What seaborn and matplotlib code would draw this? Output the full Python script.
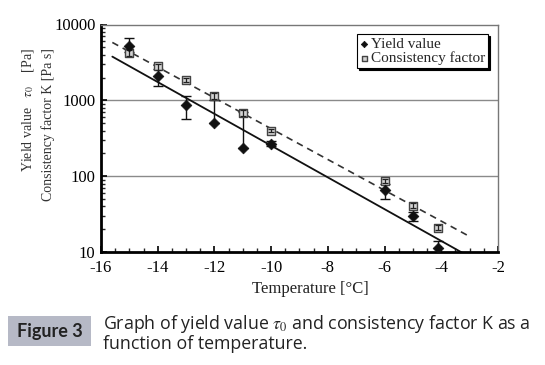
import matplotlib
matplotlib.use("Agg")
import matplotlib.pyplot as plt
import seaborn as sns
import pandas as pd
import numpy as np
from matplotlib.patches import Rectangle
from matplotlib.ticker import FixedLocator, NullFormatter, LogLocator

# ---- data ----
temps = [-15, -14, -13, -12, -11, -10, -6, -5, -4.1]
yield_value = [5200, 2100, 860, 500, 238, 267, 66, 30, 11.3]
yield_err_low = [800, 550, 290, 0, 0, 20, 16, 4, 2.5]
yield_err_high = [1500, 500, 270, 500, 470, 20, 12, 4, 2.5]

temps_k = [-15, -14, -13, -12, -11, -10, -6, -5, -4.1]
consistency = [4200, 2800, 1860, 1140, 680, 400, 87, 41, 21]
cons_err = [400, 250, 120, 100, 60, 20, 5, 3, 1.5]

fit_x = [-15.6, -3.2]
fit_yield = [3770, 9.5]
fit_x_k = [-15.6, -3.0]
fit_cons = [5800, 16]

xticks = [-16, -14, -12, -10, -8, -6, -4, -2]
yticks = [10, 100, 1000, 10000]
ytick_labels = ["10", "100", "1000", "10000"]

sns.set_theme(style="white")
plt.rcParams['font.family'] = ['Liberation Serif', 'DejaVu Serif']
plt.rcParams['mathtext.fontset'] = 'stix'

W, H = 545, 365
fig = plt.figure(figsize=(5.45, 3.65), dpi=100)
ax = fig.add_axes([101/W, 1-252/H, 397/W, 227.5/H])

df_y = pd.DataFrame({"T": temps, "v": yield_value})
df_k = pd.DataFrame({"T": temps_k, "v": consistency})
df_fy = pd.DataFrame({"T": fit_x, "v": fit_yield})
df_fk = pd.DataFrame({"T": fit_x_k, "v": fit_cons})

ax.set_yscale("log")

for g in [100, 1000]:
    ax.axhline(g, color="#8a8a8a", lw=1.0, zorder=0)

sns.lineplot(data=df_fk, x="T", y="v", ax=ax, color="#333333", lw=1.2,
             dashes=False, linestyle=(0, (4, 3)), zorder=2)
sns.lineplot(data=df_fy, x="T", y="v", ax=ax, color="#111111", lw=1.3, zorder=2)

ax.errorbar(temps_k, consistency, yerr=[cons_err, cons_err], fmt="none",
            ecolor="#222222", elinewidth=0.9, capsize=2.5, capthick=0.9, zorder=4)
ax.errorbar(temps, yield_value, yerr=[yield_err_low, yield_err_high], fmt="none",
            ecolor="#111111", elinewidth=1.0, capsize=3.5, capthick=1.0, zorder=3)

sns.scatterplot(data=df_k, x="T", y="v", ax=ax, marker="s", s=36,
                color="#d4d4d4", edgecolor="#444444", linewidth=1.0, zorder=3,
                label="Consistency factor")
sns.scatterplot(data=df_y, x="T", y="v", ax=ax, marker="D", s=30,
                color="#111111", edgecolor="#111111", linewidth=0.5, zorder=5,
                label="Yield value")

ax.set_xlim(-16, -2)
ax.set_ylim(10, 10000)
ax.set_xticks(xticks)
ax.set_xticklabels([str(t) for t in xticks])
ax.xaxis.set_minor_locator(FixedLocator(np.arange(-16, -1.9, 0.5)))
ax.set_yticks(yticks)
ax.set_yticklabels(ytick_labels)
ax.yaxis.set_minor_locator(LogLocator(base=10, subs=np.arange(2, 10)))
ax.yaxis.set_minor_formatter(NullFormatter())

ax.tick_params(axis="both", which="major", direction="in", length=4, width=1.2,
               labelsize=12, colors="black", pad=4)
ax.tick_params(axis="both", which="minor", direction="in", length=3, width=1.0)
ax.tick_params(axis="x", which="both", bottom=True, top=False)
ax.tick_params(axis="y", which="both", left=True, right=False)
ax.tick_params(axis="x", which="major", pad=6)

for s in ["left", "bottom"]:
    ax.spines[s].set_color("black")
    ax.spines[s].set_linewidth(2.0)
for s in ["top", "right"]:
    ax.spines[s].set_color("#777777")
    ax.spines[s].set_linewidth(1.0)

ax.set_xlabel("")
ax.set_ylabel("")

handles, labels = ax.get_legend_handles_labels()
order = [labels.index("Yield value"), labels.index("Consistency factor")]
leg = ax.legend([handles[i] for i in order], [labels[i] for i in order],
                loc="upper left", bbox_to_anchor=(0.645, 0.958),
                frameon=True, fancybox=False, fontsize=11, markerscale=0.6,
                handlelength=0.5, handletextpad=0.2, borderpad=0.2,
                labelspacing=0.0, borderaxespad=0.0,
                shadow={'ox': 1.5, 'oy': -1.5, 'facecolor': 'black',
                        'edgecolor': 'black', 'alpha': 1.0})
leg.get_frame().set_edgecolor("black")
leg.get_frame().set_linewidth(0.8)

fig.text(310/W, 1-289/H, "Temperature [°C]", ha="center", va="center",
         fontsize=12, color="#222222")
# rotated y-label lines: anchored at their end (top), 48 px from the top
fig.text(28/W, 1-48/H, r"Yield value   $\tau_0$    [Pa]", rotation=90,
         rotation_mode="anchor", ha="right", va="center", fontsize=10, color="#333333")
fig.text(48/W, 1-48/H, "Consistency factor K [Pa s]", rotation=90,
         rotation_mode="anchor", ha="right", va="center", fontsize=10, color="#333333")

fig.patches.append(Rectangle((8/W, 1-346/H), 83/W, 30/H,
                             transform=fig.transFigure, facecolor="#b6b9c6",
                             edgecolor="none"))
fig.text(49.5/W, 1-331/H, "Figure 3", ha="center", va="center",
         fontsize=13, fontweight="bold", color="#222222", family=["Lato", "DejaVu Sans"])
fig.text(103/W, 1-333/H,
         "Graph of yield value $\\it{\\tau_0}$ and consistency factor K as a\nfunction of temperature.",
         ha="left", va="center", fontsize=12.8, color="#222222", linespacing=1.0,
         family=["Open Sans", "DejaVu Sans"])

fig.savefig("out.png", dpi=100)
